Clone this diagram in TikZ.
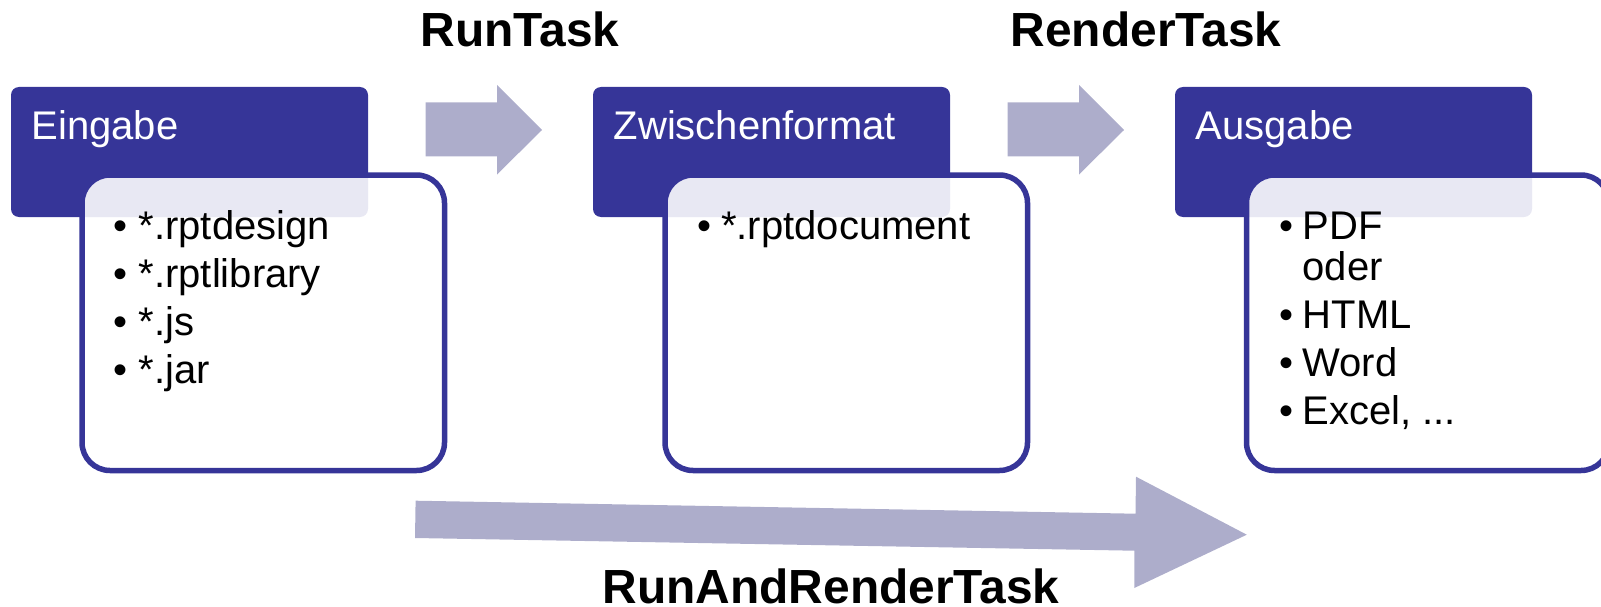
\documentclass[tikz,border=0pt]{standalone}
\usepackage{fontspec}
\setmainfont{Liberation Sans}
\definecolor{hdr}{HTML}{363598}
\definecolor{arr}{HTML}{ADADCB}
\tikzset{
  x=1pt,y=-1pt,
  hdrbox/.style={fill=hdr,draw=none,rounded corners=8pt,minimum width=357pt,minimum height=130pt,inner sep=0pt,outer sep=0pt},
  listbox/.style={draw=hdr,line width=5.5pt,fill=white,fill opacity=.89,draw opacity=1,rounded corners=28pt,minimum width=362.5pt,minimum height=295.5pt,inner sep=0pt,outer sep=0pt},
  hdrtext/.style={anchor=base west,inner sep=0pt,text=white,font=\fontsize{40}{44}\selectfont},
  item/.style={anchor=base west,inner sep=0pt,text=black,font=\fontsize{40}{44}\selectfont},
  tasktext/.style={anchor=base west,inner sep=0pt,text=black,font=\fontsize{47.9}{52}\selectfont\bfseries},
  blockarrow/.style={fill=arr,draw=none},
}
\begin{document}
\begin{tikzpicture}
\path[use as bounding box,clip] (0,0) rectangle (1601,607);
% headers
\node[hdrbox] (h1) at (189.5,152) {};
\node[hdrbox] (h2) at (771.5,152) {};
\node[hdrbox] (h3) at (1353.5,152) {};
\node[hdrtext] (t1) at (31.5,140) {Eingabe};
\node[hdrtext] (t2) at (613.5,140) {Zwischenformat};
\node[hdrtext] (t3) at (1195.5,140) {Ausgabe};
% content boxes
\node[listbox] (b1) at (263.25,322.75) {};
\node[listbox] (b2) at (846.25,322.75) {};
\node[listbox] (b3) at (1427.75,322.75) {};
% box 1 list
\node[item] (d1a) at (113.5,239) {•};
\node[item] (i1a) at (138.5,239) {*.rptdesign};
\node[item] (d1b) at (113.5,287) {•};
\node[item] (i1b) at (138.5,287) {*.rptlibrary};
\node[item] (d1c) at (113.5,335) {•};
\node[item] (i1c) at (138.5,335) {*.js};
\node[item] (d1d) at (113.5,383) {•};
\node[item] (i1d) at (138.5,383) {*.jar};
% box 2 list
\node[item] (d2a) at (697,239) {•};
\node[item] (i2a) at (721,239) {*.rptdocument};
% box 3 list
\node[item] (d3a) at (1279,239) {•};
\node[item] (i3a) at (1302.5,239) {PDF};
\node[item] (i3b) at (1302.5,280) {oder};
\node[item] (d3c) at (1279,328) {•};
\node[item] (i3c) at (1302.5,328) {HTML};
\node[item] (d3d) at (1279,376) {•};
\node[item] (i3d) at (1302.5,376) {Word};
\node[item] (d3e) at (1279,424.5) {•};
\node[item] (i3e) at (1302.5,424.5) {Excel, ...};
% block arrows
\fill[blockarrow] (425.5,102.5) -- (497,102.5) -- (497,85) -- (542,130) -- (497,174.5) -- (497,156.5) -- (425.5,156.5) -- cycle;
\fill[blockarrow] (1007.5,102.5) -- (1079,102.5) -- (1079,85) -- (1124,130) -- (1079,174.5) -- (1079,156.5) -- (1007.5,156.5) -- cycle;
\fill[blockarrow] (415.6,500.7) -- (1135.5,513.7) -- (1136,476.7) -- (1246.8,534.7) -- (1134.3,588) -- (1134.3,550.7) -- (415,538) -- cycle;
% task labels
\node[tasktext] (run) at (420.5,47) {RunTask};
\node[tasktext] (render) at (1010.5,47) {RenderTask};
\node[tasktext] (both) at (602.5,603) {RunAndRenderTask};
\end{tikzpicture}
\end{document}
